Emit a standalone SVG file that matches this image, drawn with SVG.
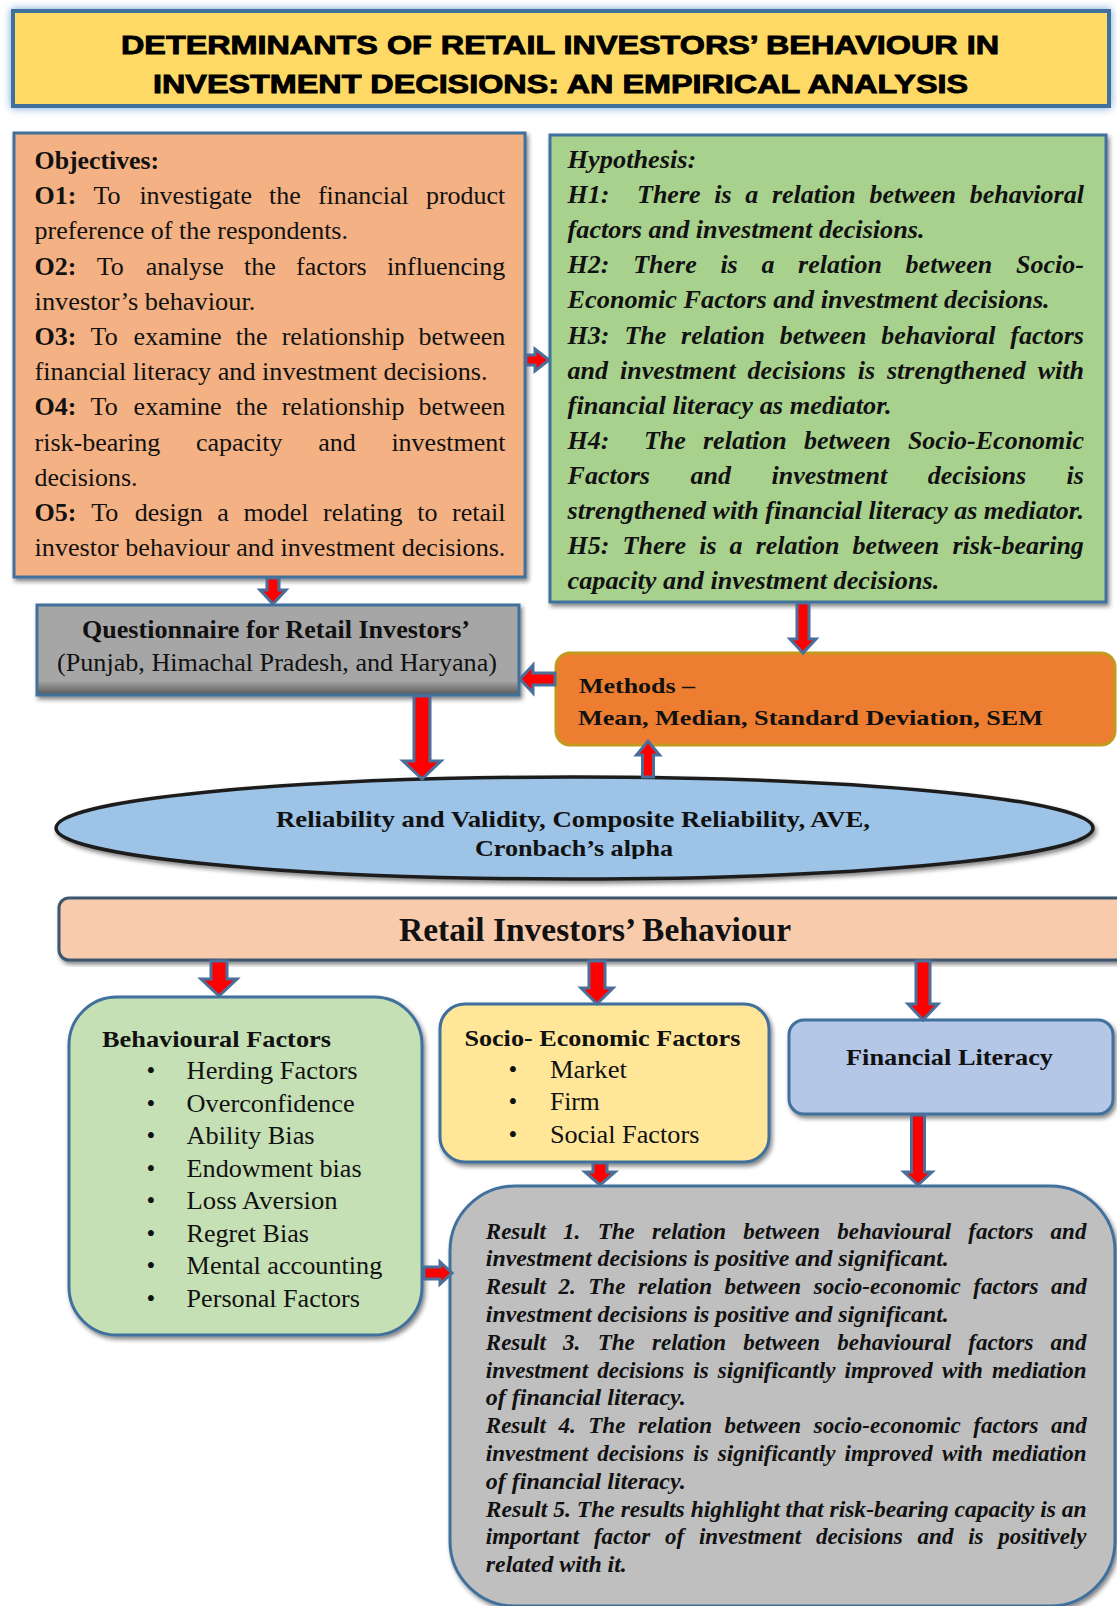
<svg xmlns="http://www.w3.org/2000/svg" width="1117" height="1606" viewBox="0 0 1117 1606">
  <style>
    .serif { font-family: "Liberation Serif", "Times New Roman", serif; fill: #111; }
    .sans { font-family: "Liberation Sans", Arial, sans-serif; fill: #000; }
    .heavy { stroke: #000; stroke-width: 0.9; }
    .b { font-weight: bold; }
    .bi { font-weight: bold; font-style: italic; }
    .f26 { font-size: 26px; }
    .f25 { font-size: 25px; }
    .f24 { font-size: 24px; }
    .f23 { font-size: 23px; }
    .f22 { font-size: 22px; }
    .box { stroke: #41719C; stroke-width: 3; }
    .arrow { fill: #FF0000; stroke: #4A6F9A; stroke-width: 3; stroke-linejoin: miter; }
  </style>
  <defs>
    <filter id="glow" x="-5%" y="-30%" width="110%" height="160%">
      <feDropShadow dx="0" dy="0" stdDeviation="4" flood-color="#5B8FD0" flood-opacity="0.85"/>
    </filter>
    <filter id="shadow" x="-5%" y="-5%" width="110%" height="115%">
      <feDropShadow dx="2" dy="3" stdDeviation="2" flood-color="#222" flood-opacity="0.55"/>
    </filter>
    <linearGradient id="greyBox" x1="0" y1="0" x2="0" y2="1">
      <stop offset="0" stop-color="#A6A6A6"/>
      <stop offset="0.84" stop-color="#A6A6A6"/>
      <stop offset="0.9" stop-color="#8A8A8A"/>
      <stop offset="1" stop-color="#555"/>
    </linearGradient>
    <clipPath id="ellipseTextClip">
      <rect x="0" y="760" width="1117" height="99"/>
    </clipPath>
  </defs>

  <rect width="1117" height="1606" fill="#FFFFFF"/>

  <!-- Title banner -->
  <g id="title">
    <rect x="13" y="11" width="1096" height="95" fill="#FFD966" stroke="#41719C" stroke-width="4" filter="url(#glow)"/>
    <text class="sans b heavy" font-size="26" x="121" y="53.5" textLength="878" lengthAdjust="spacingAndGlyphs">DETERMINANTS OF RETAIL INVESTORS’ BEHAVIOUR IN</text>
    <text class="sans b heavy" font-size="26" x="153" y="93.3" textLength="815" lengthAdjust="spacingAndGlyphs">INVESTMENT DECISIONS: AN EMPIRICAL ANALYSIS</text>
  </g>

  <!-- Objectives -->
  <g id="objectives">
    <rect class="box" x="14" y="133" width="511" height="444" fill="#F4B183" filter="url(#shadow)"/>
    <g class="serif f26">
      <text class="b" x="34.6" y="169" textLength="124.6" lengthAdjust="spacingAndGlyphs">Objectives:</text>
      <text y="204.2"><tspan x="34.6" class="b">O1:</tspan><tspan x="93.5">To</tspan><tspan x="139.4">investigate</tspan><tspan x="269.1">the</tspan><tspan x="317.9">financial</tspan><tspan x="425.9">product</tspan></text>
      <text x="34.6" y="239.4" textLength="313.4" lengthAdjust="spacingAndGlyphs">preference of the respondents.</text>
      <text y="274.6"><tspan x="34.6" class="b">O2:</tspan><tspan x="96.7">To</tspan><tspan x="145.8">analyse</tspan><tspan x="244">the</tspan><tspan x="296">factors</tspan><tspan x="386.9">influencing</tspan></text>
      <text x="34.6" y="309.8" textLength="220.8" lengthAdjust="spacingAndGlyphs">investor’s behaviour.</text>
      <text y="345"><tspan x="34.6" class="b">O3:</tspan><tspan x="90.6">To</tspan><tspan x="133.6">examine</tspan><tspan x="235.8">the</tspan><tspan x="281.7">relationship</tspan><tspan x="418.6">between</tspan></text>
      <text x="34.6" y="380.2" textLength="452.9" lengthAdjust="spacingAndGlyphs">financial literacy and investment decisions.</text>
      <text y="415.4"><tspan x="34.6" class="b">O4:</tspan><tspan x="90.6">To</tspan><tspan x="133.6">examine</tspan><tspan x="235.8">the</tspan><tspan x="281.7">relationship</tspan><tspan x="418.6">between</tspan></text>
      <text y="450.6"><tspan x="34.6">risk-bearing</tspan><tspan x="195.9">capacity</tspan><tspan x="318.2">and</tspan><tspan x="391.4">investment</tspan></text>
      <text x="34.6" y="485.8" textLength="102.9" lengthAdjust="spacingAndGlyphs">decisions.</text>
      <text y="521"><tspan x="34.6" class="b">O5:</tspan><tspan x="91.2">To</tspan><tspan x="134.8">design</tspan><tspan x="217.3">a</tspan><tspan x="243.5">model</tspan><tspan x="323.1">relating</tspan><tspan x="417.2">to</tspan><tspan x="452">retail</tspan></text>
      <text x="34.6" y="556.2" textLength="470.8" lengthAdjust="spacingAndGlyphs">investor behaviour and investment decisions.</text>
    </g>
  </g>

  <!-- Hypothesis -->
  <g id="hypothesis">
    <rect class="box" x="550" y="135" width="556" height="467" fill="#A9D18E" filter="url(#shadow)"/>
    <g class="serif bi f26">
      <text x="567.6" y="168" textLength="128.8" lengthAdjust="spacingAndGlyphs">Hypothesis:</text>
      <text y="203.1"><tspan x="567.6">H1:</tspan><tspan x="637">There</tspan><tspan x="714.2">is</tspan><tspan x="745.2">a</tspan><tspan x="771.9">relation</tspan><tspan x="869.4">between</tspan><tspan x="969.8">behavioral</tspan></text>
      <text x="567.6" y="238.2" textLength="357" lengthAdjust="spacingAndGlyphs">factors and investment decisions.</text>
      <text y="273.3"><tspan x="567.6">H2:</tspan><tspan x="633.2">There</tspan><tspan x="720.4">is</tspan><tspan x="761.4">a</tspan><tspan x="798.1">relation</tspan><tspan x="905.6">between</tspan><tspan x="1016">Socio-</tspan></text>
      <text x="567.6" y="308.4" textLength="482.1" lengthAdjust="spacingAndGlyphs">Economic Factors and investment decisions.</text>
      <text y="343.5"><tspan x="567.6">H3:</tspan><tspan x="624.4">The</tspan><tspan x="681.1">relation</tspan><tspan x="779.8">between</tspan><tspan x="881.3">behavioral</tspan><tspan x="1010.3">factors</tspan></text>
      <text y="378.6"><tspan x="567.6">and</tspan><tspan x="620.1">investment</tspan><tspan x="747.6">decisions</tspan><tspan x="857.8">is</tspan><tspan x="887">strengthened</tspan><tspan x="1037.7">with</tspan></text>
      <text x="567.6" y="413.7" textLength="324" lengthAdjust="spacingAndGlyphs">financial literacy as mediator.</text>
      <text y="448.8"><tspan x="567.6">H4:</tspan><tspan x="643.9">The</tspan><tspan x="703">relation</tspan><tspan x="804">between</tspan><tspan x="907.9">Socio-Economic</tspan></text>
      <text y="483.9"><tspan x="567.6">Factors</tspan><tspan x="690.5">and</tspan><tspan x="771.6">investment</tspan><tspan x="927.8">decisions</tspan><tspan x="1066.6">is</tspan></text>
      <text x="567.6" y="519" textLength="516.4" lengthAdjust="spacingAndGlyphs">strengthened with financial literacy as mediator.</text>
      <text y="554.1"><tspan x="567.6">H5:</tspan><tspan x="622.6">There</tspan><tspan x="699.2">is</tspan><tspan x="729.6">a</tspan><tspan x="755.7">relation</tspan><tspan x="852.6">between</tspan><tspan x="952.4">risk-bearing</tspan></text>
      <text x="567.6" y="589.2" textLength="371.7" lengthAdjust="spacingAndGlyphs">capacity and investment decisions.</text>
    </g>
  </g>

  <!-- Questionnaire -->
  <g id="questionnaire">
    <rect class="box" x="37" y="605" width="482" height="90" fill="url(#greyBox)" filter="url(#shadow)"/>
    <text class="serif b f26" x="82" y="638" textLength="388" lengthAdjust="spacingAndGlyphs">Questionnaire for Retail Investors’</text>
    <text class="serif f26" x="57" y="671" textLength="440" lengthAdjust="spacingAndGlyphs">(Punjab, Himachal Pradesh, and Haryana)</text>
  </g>

  <!-- Methods -->
  <g id="methods">
    <rect x="556" y="653" width="559" height="92" rx="14" fill="#ED7D31" stroke="#C39A1E" stroke-width="3"/>
    <text class="serif b f22" x="579" y="693" textLength="116" lengthAdjust="spacingAndGlyphs">Methods –</text>
    <text class="serif b f22" x="578" y="725" textLength="465" lengthAdjust="spacingAndGlyphs">Mean, Median, Standard Deviation, SEM</text>
  </g>

  <!-- Reliability ellipse -->
  <g id="reliability">
    <ellipse cx="574.5" cy="828" rx="518.5" ry="51" fill="#9DC3E6" stroke="#1E1E1E" stroke-width="3.5" filter="url(#shadow)"/>
    <text class="serif b f24" x="276" y="827" textLength="594" lengthAdjust="spacingAndGlyphs">Reliability and Validity, Composite Reliability, AVE,</text>
    <text class="serif b f24" x="475" y="856" textLength="198" lengthAdjust="spacingAndGlyphs" clip-path="url(#ellipseTextClip)">Cronbach’s alpha</text>
  </g>

  <!-- Retail investors' behaviour bar -->
  <g id="behaviour-bar">
    <rect x="59" y="898" width="1080" height="62" rx="10" fill="#F8CBAD" stroke="#3E5670" stroke-width="3" filter="url(#shadow)"/>
    <text class="serif b" font-size="33" x="399" y="941" textLength="392" lengthAdjust="spacingAndGlyphs">Retail Investors’ Behaviour</text>
  </g>

  <!-- Behavioural factors -->
  <g id="behavioural-factors">
    <rect class="box" x="69" y="997" width="353" height="338" rx="48" fill="#C5E0B4" filter="url(#shadow)"/>
    <text class="serif b f24" x="102" y="1047" textLength="229" lengthAdjust="spacingAndGlyphs">Behavioural Factors</text>
    <g class="serif f25">
      <text x="151" y="1079" text-anchor="middle">•</text>
      <text x="186.6" y="1079" textLength="171" lengthAdjust="spacingAndGlyphs">Herding Factors</text>
      <text x="151" y="1111.5" text-anchor="middle">•</text>
      <text x="186.6" y="1111.5" textLength="168" lengthAdjust="spacingAndGlyphs">Overconfidence</text>
      <text x="151" y="1144" text-anchor="middle">•</text>
      <text x="186.6" y="1144" textLength="128" lengthAdjust="spacingAndGlyphs">Ability Bias</text>
      <text x="151" y="1176.5" text-anchor="middle">•</text>
      <text x="186.6" y="1176.5" textLength="175" lengthAdjust="spacingAndGlyphs">Endowment bias</text>
      <text x="151" y="1209" text-anchor="middle">•</text>
      <text x="186.6" y="1209" textLength="151" lengthAdjust="spacingAndGlyphs">Loss Aversion</text>
      <text x="151" y="1241.5" text-anchor="middle">•</text>
      <text x="186.6" y="1241.5" textLength="122.4" lengthAdjust="spacingAndGlyphs">Regret Bias</text>
      <text x="151" y="1274" text-anchor="middle">•</text>
      <text x="186.6" y="1274" textLength="195.7" lengthAdjust="spacingAndGlyphs">Mental accounting</text>
      <text x="151" y="1306.5" text-anchor="middle">•</text>
      <text x="186.6" y="1306.5" textLength="173.4" lengthAdjust="spacingAndGlyphs">Personal Factors</text>
    </g>
  </g>

  <!-- Socio-economic factors -->
  <g id="socio-economic-factors">
    <rect class="box" x="440" y="1004" width="329" height="158" rx="25" fill="#FFE699" filter="url(#shadow)"/>
    <text class="serif b f24" x="464.4" y="1046" textLength="276" lengthAdjust="spacingAndGlyphs">Socio- Economic Factors</text>
    <g class="serif f25">
      <text x="512.8" y="1078" text-anchor="middle">•</text>
      <text x="549.9" y="1078" textLength="77" lengthAdjust="spacingAndGlyphs">Market</text>
      <text x="512.8" y="1110" text-anchor="middle">•</text>
      <text x="549.9" y="1110" textLength="49.8" lengthAdjust="spacingAndGlyphs">Firm</text>
      <text x="512.8" y="1143" text-anchor="middle">•</text>
      <text x="549.9" y="1143" textLength="149.5" lengthAdjust="spacingAndGlyphs">Social Factors</text>
    </g>
  </g>

  <!-- Financial literacy -->
  <g id="financial-literacy">
    <rect class="box" x="789" y="1020" width="324" height="94" rx="15" fill="#B4C7E7" filter="url(#shadow)"/>
    <text class="serif b f24" x="846" y="1065" textLength="207" lengthAdjust="spacingAndGlyphs">Financial Literacy</text>
  </g>

  <!-- Results -->
  <g id="results">
    <rect class="box" x="450" y="1186" width="665" height="420" rx="65" fill="#BFBFBF" filter="url(#shadow)"/>
    <g class="serif bi f23">
      <text y="1238.5"><tspan x="485.8">Result</tspan><tspan x="563.1">1.</tspan><tspan x="597.7">The</tspan><tspan x="652">relation</tspan><tspan x="743.3">between</tspan><tspan x="837.3">behavioural</tspan><tspan x="968.3">factors</tspan><tspan x="1050.6">and</tspan></text>
      <text x="485.8" y="1266.3" textLength="463" lengthAdjust="spacingAndGlyphs">investment decisions is positive and significant.</text>
      <text y="1294.1"><tspan x="485.8">Result</tspan><tspan x="558.4">2.</tspan><tspan x="588.3">The</tspan><tspan x="637.9">relation</tspan><tspan x="724.5">between</tspan><tspan x="813.8">socio-economic</tspan><tspan x="973.3">factors</tspan><tspan x="1050.9">and</tspan></text>
      <text x="485.8" y="1321.9" textLength="463" lengthAdjust="spacingAndGlyphs">investment decisions is positive and significant.</text>
      <text y="1349.7"><tspan x="485.8">Result</tspan><tspan x="563.1">3.</tspan><tspan x="597.7">The</tspan><tspan x="652">relation</tspan><tspan x="743.3">between</tspan><tspan x="837.3">behavioural</tspan><tspan x="968.3">factors</tspan><tspan x="1050.6">and</tspan></text>
      <text y="1377.5"><tspan x="485.8">investment</tspan><tspan x="597.2">decisions</tspan><tspan x="693.3">is</tspan><tspan x="717.8">significantly</tspan><tspan x="844.6">improved</tspan><tspan x="942">with</tspan><tspan x="992.1">mediation</tspan></text>
      <text x="485.8" y="1405.3" textLength="200" lengthAdjust="spacingAndGlyphs">of financial literacy.</text>
      <text y="1433.1"><tspan x="485.8">Result</tspan><tspan x="558.4">4.</tspan><tspan x="588.3">The</tspan><tspan x="637.9">relation</tspan><tspan x="724.5">between</tspan><tspan x="813.8">socio-economic</tspan><tspan x="973.3">factors</tspan><tspan x="1050.9">and</tspan></text>
      <text y="1460.9"><tspan x="485.8">investment</tspan><tspan x="597.2">decisions</tspan><tspan x="693.3">is</tspan><tspan x="717.8">significantly</tspan><tspan x="844.6">improved</tspan><tspan x="942">with</tspan><tspan x="992.1">mediation</tspan></text>
      <text x="485.8" y="1488.7" textLength="200" lengthAdjust="spacingAndGlyphs">of financial literacy.</text>
      <text x="485.8" y="1516.5" textLength="600.9" lengthAdjust="spacingAndGlyphs">Result 5. The results highlight that risk-bearing capacity is an</text>
      <text y="1544.3"><tspan x="485.8">important</tspan><tspan x="593.9">factor</tspan><tspan x="664.9">of</tspan><tspan x="698.9">investment</tspan><tspan x="815.9">decisions</tspan><tspan x="917.6">and</tspan><tspan x="968.2">is</tspan><tspan x="998.3">positively</tspan></text>
      <text x="485.8" y="1572.1" textLength="141" lengthAdjust="spacingAndGlyphs">related with it.</text>
    </g>
  </g>

  <!-- Block arrows connecting the stages -->
  <g id="connectors">
    <polygon class="arrow" points="526,355 535,355 535,349 549,360 535,371 535,365 526,365"/>
    <polygon class="arrow" points="267,578 279,578 279,590 286,590 273,604 260,590 267,590"/>
    <polygon class="arrow" points="797,603 809,603 809,639 816,639 803,653 790,639 797,639"/>
    <polygon class="arrow" points="555,673 533,673 533,665 520,679 533,693 533,685 555,685"/>
    <polygon class="arrow" points="414,696 430,696 430,761 441,761 422,779 403,761 414,761"/>
    <polygon class="arrow" points="642.5,777 653.5,777 653.5,755 659.5,755 648,741 636.5,755 642.5,755"/>
    <polygon class="arrow" points="211,961 227,961 227,979 237,979 219,996 201,979 211,979"/>
    <polygon class="arrow" points="589,961 605,961 605,988 613,988 597,1004 581,988 589,988"/>
    <polygon class="arrow" points="916,961 930,961 930,1004 938,1004 923,1020 908,1004 916,1004"/>
    <polygon class="arrow" points="593,1163 607,1163 607,1172 615,1172 600,1185 585,1172 593,1172"/>
    <polygon class="arrow" points="911.5,1115 924.5,1115 924.5,1172 932,1172 918,1185 904,1172 911.5,1172"/>
    <polygon class="arrow" points="424,1267 440,1267 440,1262 452,1273 440,1284 440,1279 424,1279"/>
  </g>
</svg>
